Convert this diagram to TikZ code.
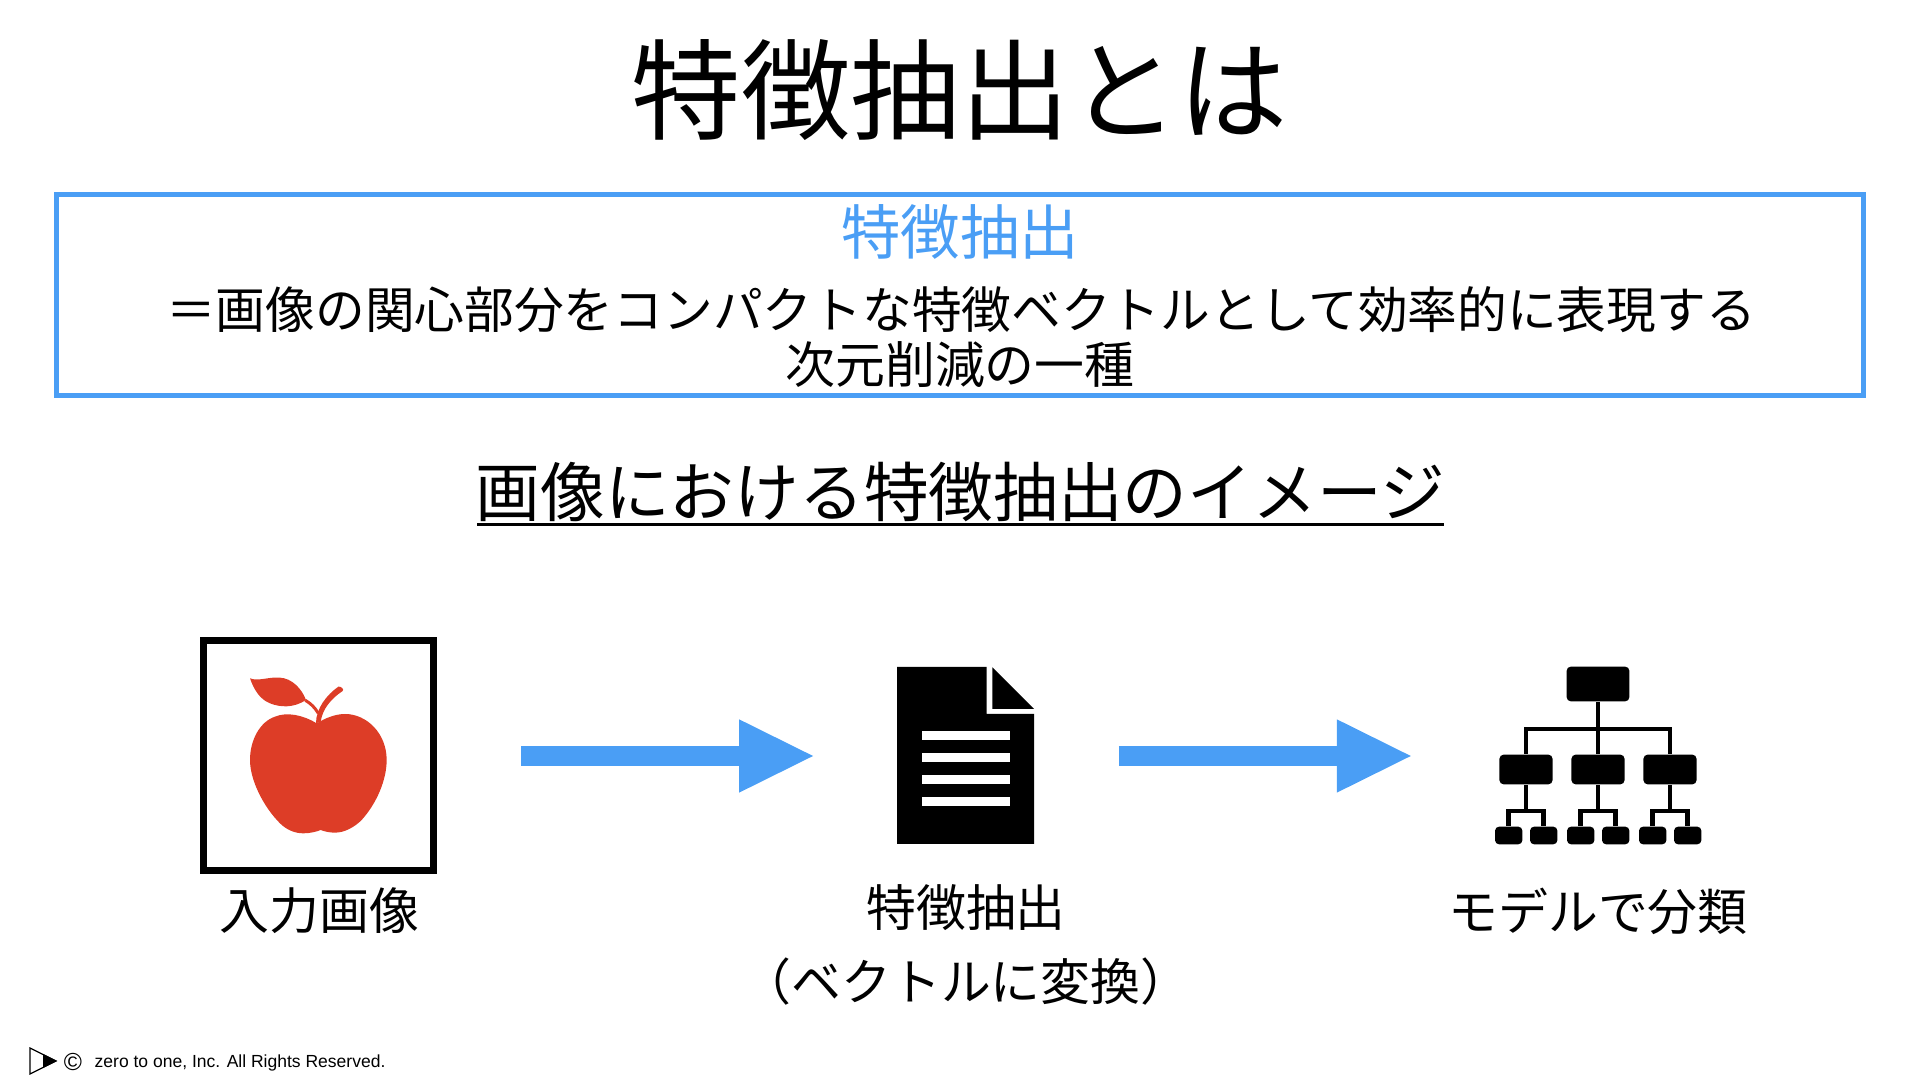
\documentclass[tikz,border=0pt]{standalone}
\usepackage{fontspec}
\setmainfont{Noto Sans CJK JP}
\newfontfamily\latinfont{Liberation Sans}
\usetikzlibrary{positioning, arrows.meta}
\definecolor{myBlue}{RGB}{74,158,245}
\definecolor{myRed}{RGB}{221,61,39}

\begin{document}
\begin{tikzpicture}[
  x=0.01cm, y=-0.01cm,
  txt/.style={inner sep=0pt, align=center},
  flow/.style={myBlue, line width=0.2cm, shorten <=0.84cm, shorten >=0.81cm,
    -{Triangle[length=0.76cm, width=0.67cm]}},
  orgbox/.style={fill=black, rounded corners=0.04cm, inner sep=0pt},
  orgline/.style={line width=0.047cm, line join=miter},
]
  \useasboundingbox (0,0) rectangle (1920,1080);

  \node[txt, font=\fontsize{31.1pt}{34pt}\selectfont] (title) at (960,90) {特徴抽出とは};

  \node[draw=myBlue, line width=0.05cm, minimum width=18.05cm, minimum height=2cm] (defbox) at (960,295) {};
  \node[txt, myBlue, font=\fontsize{16.9pt}{20pt}\selectfont] (defhead) at (960,232) {特徴抽出};
  \node[txt, font=\fontsize{14.14pt}{17pt}\selectfont] (defline) at (961,310) {＝画像の関心部分をコンパクトな特徴ベクトルとして効率的に表現する};
  \node[txt, font=\fontsize{14.18pt}{17pt}\selectfont] (defsub) at (960,365) {次元削減の一種};

  \node[txt, font=\fontsize{18.4pt}{22pt}\selectfont] (subtitle) at (960.5,492) {画像における特徴抽出のイメージ};
  \draw[line width=0.03cm] (477,525) -- (1444,525);

  % apple
  \node[draw, line width=0.07cm, minimum size=2.3cm, inner sep=0pt] (inputbox) at (318.5,755.5) {};
  \begin{scope}[shift={(180,620)}, x=0.01cm/3, y=-0.01cm/3]
    \fill[myRed] (410,310) .. controls (370,285) and (320,275) .. (285,290)
      .. controls (240,305) and (210,360) .. (210,420)
      .. controls (210,480) and (250,560) .. (300,610)
      .. controls (320,630) and (345,640) .. (370,640)
      .. controls (390,640) and (410,635) .. (422,630)
      .. controls (435,635) and (450,638) .. (465,638)
      .. controls (495,638) and (525,620) .. (545,600)
      .. controls (590,550) and (620,480) .. (620,420)
      .. controls (620,340) and (560,282) .. (495,282)
      .. controls (465,282) and (435,295) .. (410,310) -- cycle;
    \fill[myRed] (210,175) .. controls (235,185) and (265,170) .. (300,173)
      .. controls (335,175) and (365,205) .. (378,240)
      .. controls (340,265) and (300,262) .. (270,250)
      .. controls (240,238) and (222,210) .. (210,175) -- cycle;
    \fill[myRed] (408,310) .. controls (408,265) and (440,225) .. (475,200)
      .. controls (482,198) and (494,208) .. (488,213)
      .. controls (455,235) and (428,265) .. (422,305) -- cycle;
    \draw[myRed, line width=0.03cm] (376,241) .. controls (392,250) and (405,263) .. (415,280);
  \end{scope}
  \node[txt, font=\fontsize{14.18pt}{17pt}\selectfont] (inputlabel) at (319.5,911) {入力画像};

  % document
  \node[minimum width=1.37cm, minimum height=1.77cm, inner sep=0pt] (docbox) at (965.5,756) {};
  \fill (897,667) -- (986.7,667) -- (986.7,714) -- (1034,714) -- (1034,844) -- (897,844) -- cycle;
  \fill (992.3,667.3) -- (992.3,709) -- (1034,709) -- cycle;
  \foreach \y in {731,753,775,797}
    \fill[white] (922,\y) rectangle (1010,\y+9);
  \node[txt, font=\fontsize{14.18pt}{17pt}\selectfont] (doclabel) at (966,908) {特徴抽出};
  \node[txt, font=\fontsize{14.18pt}{17pt}\selectfont] (doclabelb) at (966,982) {（ベクトルに変換）};

  % tree
  \node[orgbox, minimum width=0.626cm, minimum height=0.346cm] (orgtop) at (1598,684) {};
  \coordinate (orgbar) at (1598,729);
  \foreach \i/\x in {1/1526,2/1598,3/1670} {
    \node[orgbox, minimum width=0.53cm, minimum height=0.296cm] (orgmid\i) at (\x,769.5) {};
    \node[orgbox, minimum width=0.273cm, minimum height=0.176cm] (orgleaf\i a) at (\x-17.3,835.5) {};
    \node[orgbox, minimum width=0.273cm, minimum height=0.176cm] (orgleaf\i b) at (\x+17.7,835.5) {};
    \coordinate (orgfork\i) at (\x,811);
    \draw[orgline] (orgmid\i) -- (orgfork\i);
    \draw[orgline] (orgleaf\i a) |- (orgfork\i) -| (orgleaf\i b);
  }
  \draw[orgline] (orgtop) -- (orgmid2);
  \draw[orgline] (orgmid1) |- (orgbar) -| (orgmid3);
  \node[txt, font=\fontsize{14.18pt}{17pt}\selectfont] (orglabel) at (1598,911) {モデルで分類};
  \coordinate (orgin) at (1494,756);

  \draw[flow] (inputbox.east |- docbox) -- (docbox);
  \draw[flow] (docbox) -- (orgin);

  % footer
  \draw[line width=0.012cm, line join=miter] (30,1048) -- (30,1074) -- (56,1061) -- cycle;
  \fill (43,1054) -- (43,1068) -- (57,1061) -- cycle;
  \node[txt, font=\latinfont\fontsize{7pt}{8pt}\selectfont] (markc) at (73,1062) {©};
  \node[txt, anchor=west, font=\latinfont\fontsize{4.98pt}{6pt}\selectfont] (copyright) at (94,1063) {zero to one, Inc. All Rights Reserved.};
\end{tikzpicture}
\end{document}
